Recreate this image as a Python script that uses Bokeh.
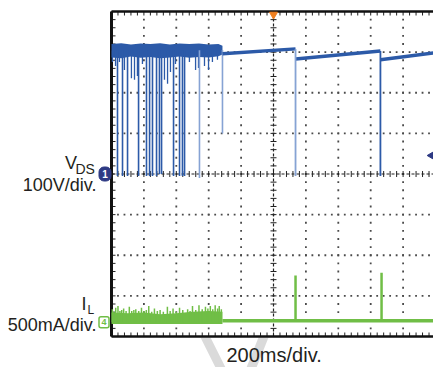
import numpy as np
from bokeh.plotting import figure
from bokeh.models import Range1d, Label
from bokeh.core.properties import value
from bokeh.embed import file_html
from bokeh.resources import INLINE

# ---------------- scope settings ----------------
TIME_PER_DIV = 200.0   # ms / div
VDS_PER_DIV = 100.0    # V / div
IL_PER_DIV = 0.5       # A / div
VDS_ZERO_DIV = 4.0     # channel 1 reference level (div from bottom)
IL_ZERO_DIV = 0.35     # channel 4 reference level (div from bottom)
N_XDIV = 10
N_YDIV = 8

# ---------------- data ----------------
# VDS: noisy burst region (ms, V)
vds_burst_t = [0, 60, 120, 180, 240, 300, 360, 420, 480, 540, 600, 660, 685]
vds_burst_hi = [320, 322, 319, 321, 320, 322, 319, 321, 320, 321, 319, 320, 316]
vds_burst_lo = [287, 285, 289, 286, 288, 285, 287, 289, 286, 288, 287, 290, 294]
# shallow dips inside the burst
vds_dip_t = [6, 25, 49, 80, 123, 142, 160, 191, 327, 346, 364, 395, 481, 519, 537, 574, 599, 623, 654]
vds_dip_v = [276, 266, 276, 256, 236, 232, 241, 271, 232, 222, 251, 271, 276, 256, 261, 266, 256, 276, 281]
# deep spikes inside the burst
vds_spike_t = [37, 68, 99, 167, 216, 235, 253, 278, 296, 309, 383, 420, 438, 451, 543, 685]
vds_spike_v = [-5, -5, -5, -5, -5, -5, -5, -5, 0, 0, -5, -5, -5, -5, -10, 100]
vds_spike_light = [0, 0, 0, 0, 0, 0, 0, 0, 0, 0, 0, 0, 0, 0, 1, 1]
# quiet sawtooth segments after the burst
vds_seg_t0 = [685, 1136, 1660]
vds_seg_t1 = [1136, 1660, 1990]
vds_seg_v0 = [296, 283, 281]
vds_seg_v1 = [308, 303, 298]
# drop-outs to 0 V
vds_drop_t = [1136, 1660]
vds_drop_top = [308, 303]
vds_drop_bottom = [-5, -5]
vds_drop_light = [1, 0]

# IL: noisy burst region (ms, A)
il_burst_t = [0, 100, 200, 300, 400, 500, 600, 685]
il_burst_hi = [0.12, 0.11, 0.12, 0.10, 0.11, 0.13, 0.14, 0.13]
il_burst_lo = [-0.02, -0.02, -0.02, -0.02, -0.02, -0.02, -0.02, -0.02]
il_spike_t = [5, 14, 26, 40, 52, 63, 75, 90, 110, 125, 138, 150, 168, 185, 200, 215, 230, 248, 265,
              283, 300, 320, 345, 362, 380, 400, 420, 440, 470, 485, 500, 520, 540, 560, 580, 595,
              610, 625, 640, 655, 665, 678]
il_spike_i = [0.16, 0.13, 0.18, 0.20, 0.14, 0.15, 0.17, 0.14, 0.19, 0.14, 0.15, 0.16, 0.14, 0.18,
              0.14, 0.15, 0.20, 0.13, 0.17, 0.14, 0.15, 0.13, 0.19, 0.14, 0.17, 0.13, 0.18, 0.15,
              0.16, 0.14, 0.20, 0.15, 0.21, 0.16, 0.19, 0.17, 0.20, 0.16, 0.21, 0.17, 0.20, 0.16]
# IL quiet baseline and current pulses
il_base_t = [685, 1990]
il_base_i = [0.02, 0.02]
il_pulse_t = [1136, 1667]
il_pulse_i = [0.575, 0.61]

# ---------------- colours ----------------
BLUE = "#2c5aa8"
BLUE_LIGHT = "#86a3d4"
GREEN = "#70be46"
NAVY = "#2e3a84"
ORANGE = "#f08020"
TEXT = "#231f20"
GRID = "#4a4a4a"

# ---------------- screen geometry (page pixels) ----------------
W, H = 433, 367
FRAME_LEFT, FRAME_TOP, FRAME_BOTTOM = 111.0, 11.0, 336.0
PX_PER_XDIV = 32.4
PX_PER_YDIV = (FRAME_BOTTOM - FRAME_TOP) / N_YDIV
PX_X = PX_PER_XDIV / TIME_PER_DIV     # px per ms


def ax(page_x):
    return (page_x - FRAME_LEFT) / PX_X


def ay(page_y):
    return (FRAME_BOTTOM - page_y) / PX_PER_YDIV


def vdiv(v):
    return VDS_ZERO_DIV + np.asarray(v, dtype=float) / VDS_PER_DIV


def idiv(i):
    return IL_ZERO_DIV + np.asarray(i, dtype=float) / IL_PER_DIV


X_END = ax(W + 3)

# ---------------- figure (the whole canvas is the data area) ----------------
p = figure(width=W, height=H, output_backend="svg", toolbar_location=None,
           x_range=Range1d(ax(0), ax(W)), y_range=Range1d(ay(H), ay(0)),
           x_axis_location=None, y_axis_location=None,
           min_border=0, min_border_left=0, min_border_right=0,
           min_border_top=0, min_border_bottom=0)
p.xgrid.visible = False
p.ygrid.visible = False
p.outline_line_color = None
p.background_fill_color = "white"
p.border_fill_color = "white"

# ---------------- watermark (light grey strokes below the screen) ----------------
wm_xs = [[ax(v) for v in (200, 210, 225, 215)], [ax(v) for v in (258, 268, 256, 246)]]
wm_ys = [[ay(v) for v in (337, 337, 367, 367)], [ay(v) for v in (337, 337, 367, 367)]]
p.patches(xs=wm_xs, ys=wm_ys, fill_color="#dadada", line_color=None, level="underlay")

# ---------------- graticule ----------------
fine_x = np.arange(0, X_END, TIME_PER_DIV / 5)
fine_y = np.round(np.arange(0, N_YDIV + 0.01, 0.2), 3)
major_x = [k * TIME_PER_DIV for k in range(1, N_XDIV) if k != N_XDIV // 2]
major_y = [k for k in range(1, N_YDIV) if k != N_YDIV // 2]

dot_x, dot_y = [], []
for gx in major_x:
    for fy in fine_y[1:-1]:
        dot_x.append(gx); dot_y.append(fy)
for gy in major_y:
    for fx in fine_x[1:]:
        dot_x.append(fx); dot_y.append(gy)
p.scatter(x=dot_x, y=dot_y, marker="square", size=1.8, fill_color=GRID, line_color=None)

tx = 4 / PX_X            # 4 px expressed in ms
ty = 4 / PX_PER_YDIV     # 4 px expressed in div
cx = 3 / PX_X
cy = 3 / PX_PER_YDIV

# centre cross (dashed, with ticks)
XC, YC = N_XDIV // 2 * TIME_PER_DIV, N_YDIV / 2
p.segment(x0=[XC, 0], y0=[0, YC], x1=[XC, X_END], y1=[N_YDIV, YC],
          line_color="#222222", line_width=1.2, line_dash="3 2")
p.segment(x0=[XC - cx] * len(fine_y), y0=fine_y, x1=[XC + cx] * len(fine_y), y1=fine_y,
          line_color="#222222", line_width=1)
p.segment(x0=fine_x, y0=[YC - cy] * len(fine_x), x1=fine_x, y1=[YC + cy] * len(fine_x),
          line_color="#222222", line_width=1)

# frame: left, top, bottom borders with inward ticks
p.segment(x0=[0] * len(fine_y), y0=fine_y, x1=[tx] * len(fine_y), y1=fine_y,
          line_color="#222222", line_width=1)
p.segment(x0=fine_x, y0=[N_YDIV] * len(fine_x), x1=fine_x, y1=[N_YDIV - ty] * len(fine_x),
          line_color="#222222", line_width=1)
p.segment(x0=fine_x, y0=[0] * len(fine_x), x1=fine_x, y1=[ty] * len(fine_x),
          line_color="#222222", line_width=1)
p.segment(x0=[0, 0, 0], y0=[0, N_YDIV, 0], x1=[0, X_END, X_END], y1=[N_YDIV, N_YDIV, 0],
          line_color="#111111", line_width=[3, 2.4, 2.4])

# ---------------- VDS trace ----------------
p.varea(x=vds_burst_t, y1=vdiv(vds_burst_lo), y2=vdiv(vds_burst_hi), color=BLUE)
band_mid = (np.array(vds_burst_lo) + np.array(vds_burst_hi)) / 2
mid = np.interp(vds_dip_t, vds_burst_t, band_mid)
p.segment(x0=vds_dip_t, y0=vdiv(mid), x1=vds_dip_t, y1=vdiv(vds_dip_v), line_color=BLUE, line_width=1.3)
mid_s = np.interp(vds_spike_t, vds_burst_t, band_mid)
spike_col = [BLUE_LIGHT if l else BLUE for l in vds_spike_light]
p.segment(x0=vds_spike_t, y0=vdiv(mid_s), x1=vds_spike_t, y1=vdiv(vds_spike_v),
          line_color=spike_col, line_width=1.6)
p.segment(x0=vds_seg_t0, y0=vdiv(vds_seg_v0), x1=vds_seg_t1, y1=vdiv(vds_seg_v1),
          line_color=BLUE, line_width=3.5)
drop_col = [BLUE_LIGHT if l else BLUE for l in vds_drop_light]
p.segment(x0=vds_drop_t, y0=vdiv(vds_drop_top), x1=vds_drop_t, y1=vdiv(vds_drop_bottom),
          line_color=drop_col, line_width=1.8)

# ---------------- IL trace ----------------
p.varea(x=il_burst_t, y1=idiv(il_burst_lo), y2=idiv(il_burst_hi), color=GREEN)
p.segment(x0=il_spike_t, y0=idiv([0] * len(il_spike_t)), x1=il_spike_t, y1=idiv(il_spike_i),
          line_color=GREEN, line_width=1.5)
p.line(x=il_base_t, y=idiv(il_base_i), line_color=GREEN, line_width=3.5)
p.segment(x0=il_pulse_t, y0=idiv([0.02] * len(il_pulse_t)), x1=il_pulse_t, y1=idiv(il_pulse_i),
          line_color=GREEN, line_width=2.5)

# ---------------- markers ----------------
p.scatter(x=[XC], y=[ay(14)], marker="inverted_triangle", size=8,
          fill_color=ORANGE, line_color=ORANGE)
p.scatter(x=[ax(433)], y=[ay(155)], marker="triangle", angle=np.pi / 2, size=11,
          fill_color=NAVY, line_color=NAVY)

# channel reference markers (left of the screen)
p.rect(x=[ax(104.5)], y=[vdiv(0)], width=12, height=14, width_units="screen",
       height_units="screen", fill_color=NAVY, line_color=NAVY, border_radius=5)
p.text(x=[ax(104.5)], y=[vdiv(0)], text=["1"], text_font=value("Liberation Sans"),
       text_font_size="10px", text_font_style="bold", text_color="white",
       text_align="center", text_baseline="middle")
p.rect(x=[ax(103.5)], y=[idiv(0)], width=10, height=11, width_units="screen",
       height_units="screen", fill_color="white", line_color=GREEN, line_width=1.5,
       border_radius=2)
p.text(x=[ax(103.5)], y=[idiv(0)], text=["4"], text_font=value("Liberation Sans"),
       text_font_size="9px", text_font_style="bold", text_color=GREEN,
       text_align="center", text_baseline="middle")

# ---------------- labels ----------------
def label(text, px, py, size, align="left", color=TEXT):
    p.add_layout(Label(x=ax(px), y=ay(py - 0.33 * size), text=text, text_font="Liberation Sans",
                       text_font_size=f"{size}px", text_color=color, text_align=align,
                       text_baseline="alphabetic"))


label("V", 76.5, 168, 18, align="right")
label("DS", 75, 173.5, 14)
label("100V/div.", 96, 190, 18, align="right")
label("I", 81, 309, 18)
label("L", 87, 313.5, 12)
label("500mA/div.", 96, 330, 18, align="right")
label("200ms/div.", 226, 361, 20)

open("out.html", "w").write(file_html(p, INLINE))
